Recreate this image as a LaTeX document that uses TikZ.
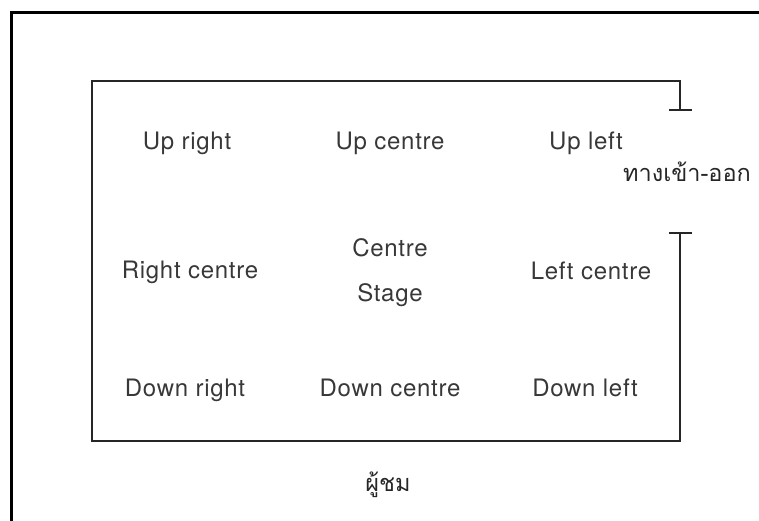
\documentclass[tikz,border=0pt]{standalone}
\usepackage{fontspec}
\setmainfont[LetterSpace=3]{TeX Gyre Heros}
\newfontfamily\thaifont[Script=Thai]{Loma}
\begin{document}
\begin{tikzpicture}[x=1pt,y=-1pt,
  lbl/.style={anchor=base,inner sep=0pt,text=black!78,font=\fontsize{24}{28}\selectfont},
  thai/.style={inner sep=0pt,text=black!85,font=\thaifont\fontsize{23.5}{28}\selectfont},
  frame/.style={line width=3pt,black},
  stage/.style={line width=2pt,black!85}]
\useasboundingbox (0,0) rectangle (759,521);
\coordinate (o1) at (11,521);
\coordinate (o2) at (11,13);
\coordinate (o3) at (759,13);
\draw[frame] (o1) -- (o2) -- (o3);
\coordinate (s1) at (680,110);
\coordinate (s2) at (680,81);
\coordinate (s3) at (92,81);
\coordinate (s4) at (92,441);
\coordinate (s5) at (680,441);
\coordinate (s6) at (680,233);
\draw[stage] (s1) -- (s2) -- (s3) -- (s4) -- (s5) -- (s6);
\coordinate (t1a) at (669,110);
\coordinate (t1b) at (692,110);
\coordinate (t2a) at (669,233);
\coordinate (t2b) at (692,233);
\draw[stage] (t1a) -- (t1b);
\draw[stage] (t2a) -- (t2b);
\node[lbl] (ur) at (187,150) {Up right};
\node[lbl] (uc) at (390,150) {Up centre};
\node[lbl] (ul) at (586,150) {Up left};
\node[lbl] (rc) at (190,278) {Right centre};
\node[lbl] (cc) at (390,256) {Centre};
\node[lbl] (cs) at (390,301) {Stage};
\node[lbl] (lc) at (591,279) {Left centre};
\node[lbl] (dr) at (185,396) {Down right};
\node[lbl] (dc) at (390,396) {Down centre};
\node[lbl] (dl) at (585,396) {Down left};
\node[thai] (door) at (687,172) {ทางเข้า-ออก};
\node[thai] (aud) at (388,485) {ผู้ชม};
\end{tikzpicture}
\end{document}
